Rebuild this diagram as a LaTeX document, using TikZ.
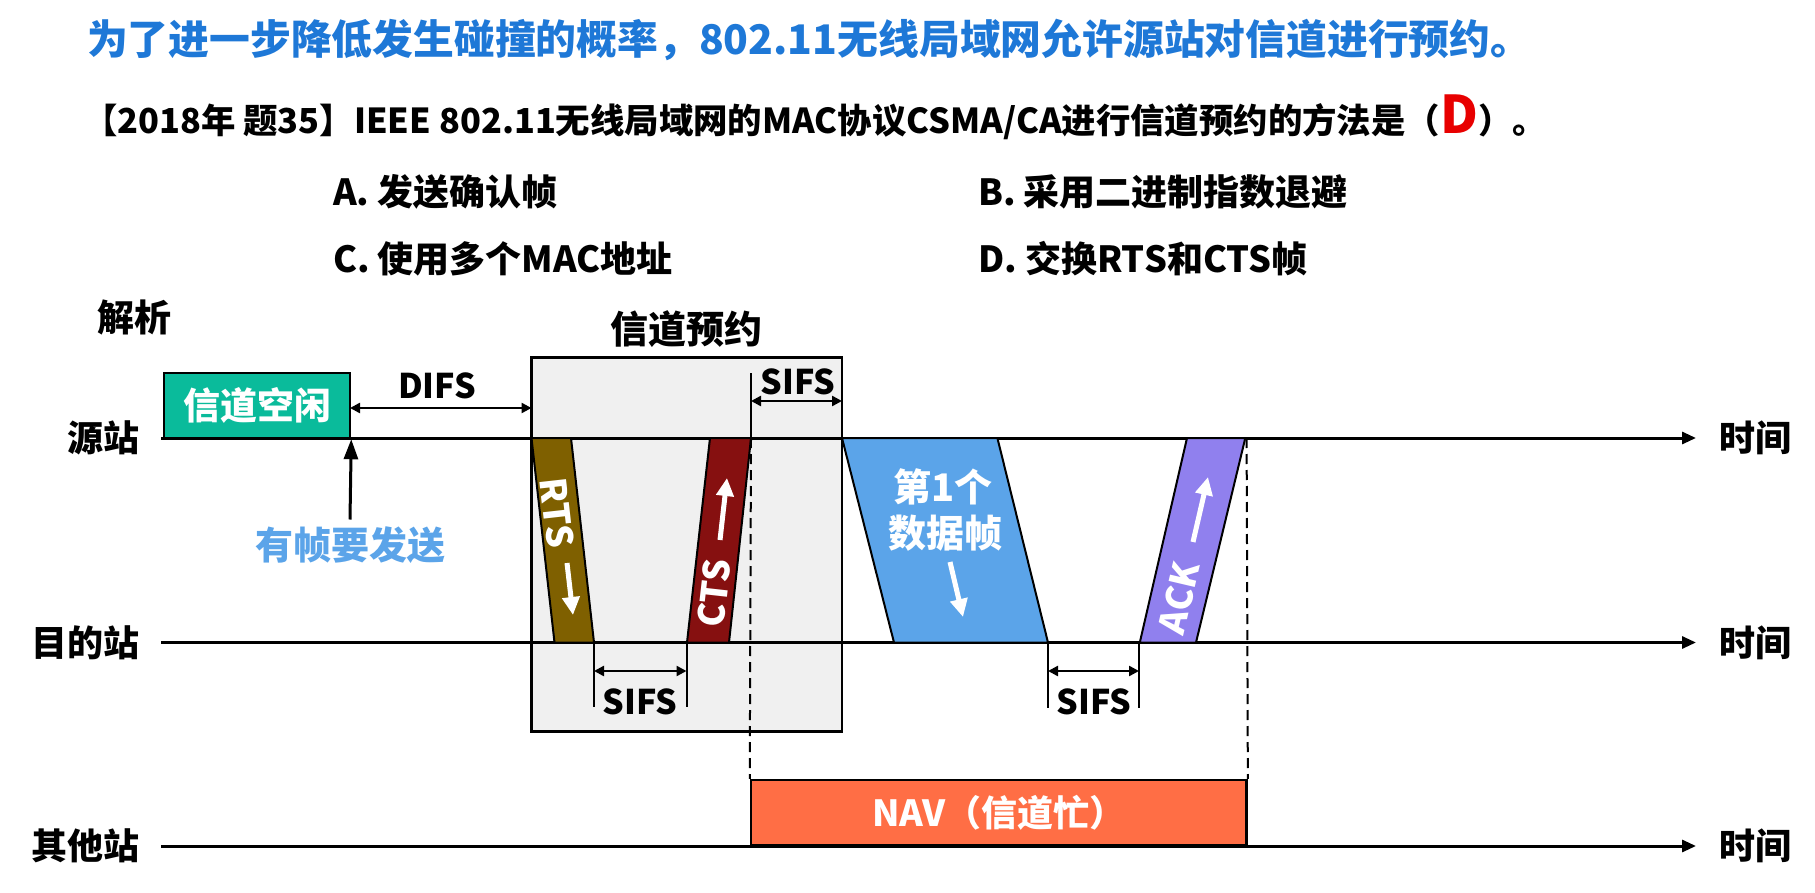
\documentclass[tikz,border=0pt]{standalone}
\usepackage{fontspec}
\setmainfont{Noto Sans CJK SC}
\usetikzlibrary{positioning}
\usetikzlibrary{arrows.meta}

\definecolor{blutitolo}{RGB}{30,120,215}
\definecolor{rosso}{RGB}{232,0,0}
\definecolor{verde}{RGB}{10,187,155}
\definecolor{grigio}{RGB}{240,240,240}
\definecolor{marrone}{RGB}{127,96,0}
\definecolor{bordeaux}{RGB}{134,16,16}
\definecolor{azzurro}{RGB}{91,164,233}
\definecolor{viola}{RGB}{144,128,238}
\definecolor{arancio}{RGB}{255,110,69}

\newcommand{\fs}[1]{\fontsize{#1}{#1}\selectfont\bfseries}

\begin{document}
\begin{tikzpicture}[x=0.5pt,y=-0.5pt,
asse/.style={line width=1.5pt,-{Triangle[length=7pt,width=6pt]}},
quota/.style={line width=1.2pt,{Triangle[length=5pt,width=5pt]}-{Triangle[length=5pt,width=5pt]}},
tacca/.style={line width=1pt},
stazione/.style={font=\fs{18},anchor=east},
tempo/.style={font=\fs{18},anchor=west},
opzione/.style={font=\fs{18},anchor=west},
scritta/.style={font=\fs{17}},
trama/.style={draw,line width=1pt},
bianco/.style={text=white,font=\fs{18}},
freccia/.style={white,line width=2.5pt,-{Triangle[length=9pt,width=8.5pt]}},
tratteggio/.style={line width=1pt,dash pattern=on 5pt off 3pt}
]
\useasboundingbox (0,0) rectangle (1815,893);
%-- testo
\node[anchor=west,text=blutitolo,font=\fs{20.4}] (titolo) at (80,40) {为了进一步降低发生碰撞的概率，802.11无线局域网允许源站对信道进行预约。};
\node[anchor=west,font=\fs{17.2}] (domanda) at (76,117) {【2018年 题35】IEEE 802.11无线局域网的MAC协议CSMA/CA进行信道预约的方法是（{\color{rosso}\fs{26}D}）。};
\node[opzione] (oa) at (326,192) {A. 发送确认帧};
\node[opzione] (ob) at (971,192) {B. 采用二进制指数退避};
\node[opzione] (oc) at (326,259) {C. 使用多个MAC地址};
\node[opzione] (od) at (971,259) {D. 交换RTS和CTS帧};
\node[font=\fs{18.5}] (analisi) at (134,317) {解析};
%-- riquadro prenotazione
\node[draw,fill=grigio,line width=1.25pt,minimum width=155.25pt,minimum height=187pt,inner sep=0pt] (prenot) at (686.75,544.7) {};
\node[font=\fs{19},above=1pt of prenot] (tprenot) {信道预约};
%-- assi
\coordinate (s0) at (161,438); \coordinate (s1) at (1696,438);
\coordinate (d0) at (161,642.5); \coordinate (d1) at (1696,642.5);
\coordinate (a0) at (161,846); \coordinate (a1) at (1696,846);
\node[stazione] (ls) at (147,438) {源站};
\node[stazione] (ld) at (147,643) {目的站};
\node[stazione] (la) at (147,846) {其他站};
\node[tempo] (ts) at (1712,438) {时间};
\node[tempo] (td) at (1712,643) {时间};
\node[tempo] (ta) at (1712,846) {时间};
%-- NAV
\node[draw,fill=arancio,line width=1.25pt,minimum width=247.8pt,minimum height=32.85pt,inner sep=0pt,bianco,font=\fs{18}] (nav) at (998.8,812.85) {NAV（信道忙）};
\draw[asse] (s0) -- (s1);
\draw[asse] (d0) -- (d1);
\draw[asse] (a0) -- (a1);
%-- canale libero
\node[draw,fill=verde,line width=1.25pt,minimum width=93pt,minimum height=32.5pt,inner sep=0pt,bianco,font=\fs{18.5}] (libero) at (257,405.5) {信道空闲};
\coordinate (difsA) at (350,408); \coordinate (difsB) at (531.5,408);
\draw[quota] (difsA) -- (difsB);
\node[scritta] (difs) at (437,386) {DIFS};
\node[text=azzurro,font=\fs{19}] (invio) at (350,545) {有帧要发送};
\draw[line width=1.5pt,-{Triangle[length=10pt,width=7pt]}] (invio.north) -- (libero.south east);
%-- RTS / CTS
\draw[trama,fill=marrone] (531.5,438) -- (571,438) -- (594,642.5) -- (554.5,642.5) -- cycle;
\draw[trama,fill=bordeaux] (710,438) -- (751,438) -- (729,642.5) -- (687,642.5) -- cycle;
\node[bianco,rotate=-83.6] (rts) at (557,513) {RTS};
\node[bianco,rotate=83.6] (cts) at (714,593) {CTS};
\coordinate (r0) at (567,563); \coordinate (r1) at (573,615);
\coordinate (c0) at (720,540); \coordinate (c1) at (727,478);
\draw[freccia] (r0) -- (r1);
\draw[freccia] (c0) -- (c1);
%-- dati / ACK
\draw[trama,fill=azzurro] (842,438) -- (997.4,438) -- (1048,642.5) -- (894,642.5) -- cycle;
\draw[trama,fill=viola] (1187,438) -- (1245.3,438) -- (1196,642.5) -- (1139.8,642.5) -- cycle;
\node[bianco,font=\fs{19}] (dati1) at (943,487) {第1个};
\node[bianco,font=\fs{19}] (dati2) at (945,533) {数据帧};
\node[bianco,rotate=76.8] (ack) at (1179,598) {ACK};
\coordinate (x0) at (950,562); \coordinate (x1) at (963,617);
\coordinate (k0) at (1193,542); \coordinate (k1) at (1208,477);
\draw[freccia] (x0) -- (x1);
\draw[freccia] (k0) -- (k1);
%-- SIFS
\coordinate (ctsA) at (751,438); \coordinate (ackA) at (1246.6,438);
\draw[tacca] (ctsA) -- ++(0,-65) coordinate (ctsT);
\draw[quota] (751,401) -- (842,401);
\node[scritta] (sifs1) at (798,382) {SIFS};
\draw[tacca] (594,642.5) -- (594,707);
\draw[tacca] (686.5,642.5) -- (686.5,707);
\draw[quota] (594,671) -- (686.5,671);
\node[scritta] (sifs2) at (640,702) {SIFS};
\draw[tacca] (1048,642.5) -- (1048,708);
\draw[tacca] (1139,642.5) -- (1139,708);
\draw[quota] (1048,671) -- (1139,671);
\node[scritta] (sifs3) at (1094,702) {SIFS};
%-- tratteggi
\draw[tratteggio] (ctsA) -- (nav.north west);
\draw[tratteggio] (ackA) -- (nav.north east);
\end{tikzpicture}
\end{document}
